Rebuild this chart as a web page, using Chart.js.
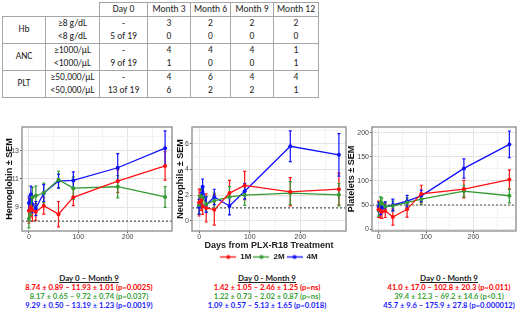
<!DOCTYPE html>
<html>
<head>
<meta charset="utf-8">
<title>PLX-R18 blood counts</title>
<script src="https://cdn.jsdelivr.net/npm/chart.js"></script>
<style>
  body { margin: 0; width: 520px; height: 312px; position: relative; overflow: hidden; background: #fff;
         font-family: Carlito, Lato, 'Liberation Sans', sans-serif; }
  #tbl { position: absolute; left: 2px; top: 2px; border-collapse: collapse; table-layout: fixed; font-size: 9.5px; color: #222; }
  #tbl td { border: 1px solid #a6a6a6; padding: 0; text-align: center; white-space: nowrap; height: 13px; line-height: 13px; }
  #tbl td.blank { border: none; }
  #tbl tr.hi td { border-bottom: none; }
  #tbl tr.lo td { border-top: none; }
  #tbl tr.hi td.grp { border-bottom: 1px solid #a6a6a6; }
  canvas { position: absolute; }
  .stats { position: absolute; top: 274px; width: 180px; text-align: center; font-weight: bold; font-size: 7.6px; line-height: 9px;
           font-family: 'Liberation Sans Narrow', Lato, sans-serif; }
  .stats .hd { text-decoration: underline; color: #222; font-size: 8px; }
</style>
</head>
<body>
<table id="tbl"></table>
<canvas id="hb" width="178" height="130" style="left:0;top:120px"></canvas>
<canvas id="anc" width="180" height="151" style="left:170px;top:120px"></canvas>
<canvas id="plt" width="180" height="130" style="left:340px;top:120px"></canvas>
<div id="stats"></div>
<script>
// tabela
const tableCols = ['Day 0', 'Month 3', 'Month 6', 'Month 9', 'Month 12'];
const tableGroups = ['Hb', 'ANC', 'PLT'];
const tableRowLabels = [['≥8 g/dL', '<8 g/dL'], ['≥1000/µL', '<1000/µL'], ['≥50,000/µL', '<50,000/µL']];
const hbCounts = [['-', '3', '2', '2', '2'], ['5 of 19', '0', '0', '0', '0']];
const ancCounts = [['-', '4', '4', '4', '1'], ['9 of 19', '1', '0', '0', '1']];
const pltCounts = [['-', '4', '6', '4', '4'], ['13 of 19', '6', '2', '2', '1']];
const colWidths = [43, 54, 48, 43, 40, 43, 45];

// dane wykresow
const days = [0, 4, 7, 14, 30, 60, 90, 180, 276];
const seriesNames = ['1M', '2M', '4M'];
const seriesColors = ['#ff1010', '#339933', '#1010ff'];

const hb1M = [8.74, 9.0, 8.8, 8.65, 9.1, 8.5, 9.7, 10.85, 11.93];
const hb1MSem = [0.89, 0.7, 0.8, 0.6, 0.6, 0.9, 0.6, 0.8, 1.01];
const hb2M = [8.17, 9.0, 9.7, 9.8, 10.0, 10.95, 10.35, 10.45, 9.72];
const hb2MSem = [0.65, 0.6, 0.7, 0.7, 0.7, 0.6, 0.8, 0.8, 0.74];
const hb4M = [9.29, 9.9, 9.2, 8.9, 10.0, 10.85, 10.9, 11.8, 13.19];
const hb4MSem = [0.5, 0.6, 0.6, 0.5, 0.6, 0.5, 0.6, 1.0, 1.23];

const anc1M = [1.42, 1.6, 1.1, 1.0, 0.85, 2.15, 2.75, 2.25, 2.46];
const anc1MSem = [1.05, 0.8, 0.6, 1.1, 1.2, 1.0, 1.1, 1.1, 1.25];
const anc2M = [1.22, 1.9, 1.8, 1.3, 1.55, 1.85, 2.0, 2.15, 2.02];
const anc2MSem = [0.73, 0.6, 0.6, 0.6, 0.6, 0.8, 0.8, 0.9, 0.87];
const anc4M = [1.09, 1.7, 2.65, 1.25, 1.85, 1.15, 2.3, 5.8, 5.13];
const anc4MSem = [0.57, 0.5, 0.6, 0.6, 0.6, 0.7, 0.6, 1.2, 1.65];

const plt1M = [41.0, 38, 36, 38, 25, 41, 73, 83, 102.8];
const plt1MSem = [17.0, 15, 14, 14, 17, 16, 18, 18, 20.3];
const plt2M = [39.4, 55, 53, 47, 48, 55, 62, 79, 69.2];
const plt2MSem = [12.3, 12, 12, 10, 10, 10, 11, 12, 14.6];
const plt4M = [45.7, 40, 44, 46, 50, 58, 69, 126, 175.9];
const plt4MSem = [9.6, 10, 10, 10, 12, 12, 12, 20, 27.8];

const xTicks = [0, 50, 100, 150, 200, 250];
const xLabels = [0, 100, 200];
const hbTicks = [8, 9, 10, 11, 12, 13, 14];
const hbLabels = [9, 11, 13];
const ancTicks = [0, 1, 2, 3, 4, 5, 6, 7];
const ancLabels = [0, 2, 4, 6];
const pltTicks = [0, 25, 50, 75, 100, 125, 150, 175, 200];
const pltLabels = [0, 50, 100, 150, 200];

const statsHeaders = ['Day 0 – Month 9', 'Day 0 - Month 9', 'Day 0 - Month 9'];
const hbStats = ['8.74 ± 0.89 – 11.93 ± 1.01 (p=0.0025)', '8.17 ± 0.65 – 9.72 ± 0.74 (p=0.037)', '9.29 ± 0.50 – 13.19 ± 1.23 (p=0.0019)'];
const ancStats = ['1.42 ± 1.05 – 2.46 ± 1.25 (p=ns)', '1.22 ± 0.73 – 2.02 ± 0.87 (p=ns)', '1.09 ± 0.57 – 5.13 ± 1.65 (p=0.018)'];
const pltStats = ['41.0 ± 17.0 – 102.8 ± 20.3 (p=0.011)', '39.4 ± 12.3 – 69.2 ± 14.6 (p<0.1)', '45.7 ± 9.6 – 175.9 ± 27.8 (p=0.000012)'];
const statsColors = ['#ff0000', '#3a9e3a', '#1a1aff'];

// budowa tabeli
const tbl = document.getElementById('tbl');
let html = '<colgroup>' + colWidths.map(w => '<col style="width:' + w + 'px">').join('') + '</colgroup>';
html += '<tr><td class="blank"></td><td class="blank"></td>' + tableCols.map(c => '<td style="height:12px;line-height:12px">' + c + '</td>').join('') + '</tr>';
[hbCounts, ancCounts, pltCounts].forEach((counts, g) => {
  counts.forEach((row, r) => {
    html += '<tr class="' + (r === 0 ? 'hi' : 'lo') + '">';
    if (r === 0) html += '<td rowspan="2" class="grp">' + tableGroups[g] + '</td>';
    html += '<td>' + tableRowLabels[g][r] + '</td>' + row.map(v => '<td>' + v + '</td>').join('') + '</tr>';
  });
});
tbl.innerHTML = html;

// statystyki pod wykresami
const statsBox = document.getElementById('stats');
[hbStats, ancStats, pltStats].forEach((lines, i) => {
  const div = document.createElement('div');
  div.className = 'stats';
  div.style.left = [-1, 177, 359][i] + 'px';
  div.innerHTML = '<div class="hd">' + statsHeaders[i] + '</div>' +
    lines.map((t, k) => '<div style="color:' + statsColors[k] + '">' + t + '</div>').join('');
  statsBox.appendChild(div);
});

// pluginy: slupki bledow, linia progowa, ramka panelu
const errorBars = {
  id: 'errorBars',
  beforeDatasetsDraw(chart) {
    const { ctx, scales: { x, y } } = chart;
    chart.data.datasets.forEach(ds => {
      ctx.save();
      ctx.strokeStyle = ds.borderColor;
      ctx.lineWidth = 1.2;
      ds.data.forEach((p, i) => {
        const px = x.getPixelForValue(p.x);
        const top = y.getPixelForValue(p.y + ds.sem[i]);
        const bot = y.getPixelForValue(p.y - ds.sem[i]);
        ctx.beginPath();
        ctx.moveTo(px, top); ctx.lineTo(px, bot);
        ctx.moveTo(px - 1.5, top); ctx.lineTo(px + 1.5, top);
        ctx.moveTo(px - 1.5, bot); ctx.lineTo(px + 1.5, bot);
        ctx.stroke();
      });
      ctx.restore();
    });
  }
};

const refLine = {
  id: 'refLine',
  beforeDatasetsDraw(chart, args, opts) {
    const { ctx, chartArea, scales: { y } } = chart;
    const py = y.getPixelForValue(opts.value);
    ctx.save();
    ctx.strokeStyle = '#555';
    ctx.lineWidth = 1.1;
    ctx.setLineDash([2, 2]);
    ctx.beginPath();
    ctx.moveTo(chartArea.left, py);
    ctx.lineTo(chartArea.right, py);
    ctx.stroke();
    ctx.restore();
  }
};

const panelBorder = {
  id: 'panelBorder',
  afterDraw(chart) {
    const { ctx, chartArea: a } = chart;
    ctx.save();
    ctx.strokeStyle = '#9a9a9a';
    ctx.lineWidth = 1.5;
    ctx.strokeRect(a.left, a.top, a.right - a.left, a.bottom - a.top);
    ctx.restore();
  }
};

function keyImage(color) {
  const c = document.createElement('canvas');
  c.width = 16; c.height = 7;
  const g = c.getContext('2d');
  g.strokeStyle = color; g.fillStyle = color; g.lineWidth = 1.3;
  g.beginPath(); g.moveTo(0, 3.5); g.lineTo(16, 3.5); g.stroke();
  g.beginPath(); g.arc(8, 3.5, 2, 0, Math.PI * 2); g.fill();
  return c;
}

const axisFont = "'Liberation Sans', Arial, sans-serif";

function makePanel(id, cfg) {
  const datasets = cfg.series.map((vals, i) => ({
    label: seriesNames[i],
    data: days.map((d, k) => ({ x: d, y: vals[k] })),
    sem: cfg.sems[i],
    borderColor: seriesColors[i],
    backgroundColor: seriesColors[i],
    borderWidth: 1.3,
    pointRadius: 2,
    pointBorderWidth: 0,
    tension: 0
  }));
  return new Chart(document.getElementById(id), {
    type: 'line',
    data: { datasets },
    options: {
      responsive: false,
      animation: false,
      devicePixelRatio: 1,
      layout: { padding: { top: 7, right: cfg.padRight, left: 0, bottom: 0 } },
      plugins: {
        legend: cfg.legend ? {
          display: true,
          position: 'bottom',
          fullSize: false,
          labels: {
            usePointStyle: true,
            pointStyleWidth: 16,
            boxHeight: 7,
            padding: 2,
            color: '#222',
            font: { size: 8, weight: 'bold', family: axisFont },
            generateLabels: chart => chart.data.datasets.map((ds, i) => ({
              text: ds.label, pointStyle: keyImage(ds.borderColor), fillStyle: ds.borderColor,
              strokeStyle: ds.borderColor, lineWidth: 0, hidden: false, datasetIndex: i, fontColor: '#222'
            }))
          }
        } : { display: false },
        tooltip: { enabled: false },
        refLine: { value: cfg.threshold }
      },
      scales: {
        x: {
          type: 'linear', min: -14, max: 290,
          afterBuildTicks: s => { s.ticks = xTicks.map(v => ({ value: v })); },
          afterFit: s => { s.height = cfg.xHeight; },
          border: { display: false },
          grid: {
            color: c => (c.tick && xLabels.includes(c.tick.value)) ? '#e4e4e4' : '#f2f2f2',
            tickColor: c => (c.tick && xLabels.includes(c.tick.value)) ? '#555' : 'rgba(0,0,0,0)',
            tickLength: 2
          },
          ticks: {
            autoSkip: false, maxRotation: 0, padding: 0, color: '#444',
            font: { size: 7, family: axisFont },
            callback: v => xLabels.includes(v) ? v : ''
          },
          title: cfg.xTitle ? {
            display: true, text: cfg.xTitle, color: '#222',
            font: { size: 9, weight: 'bold', family: axisFont }, padding: { top: 0, bottom: 0 }
          } : { display: false }
        },
        y: {
          type: 'linear', min: cfg.yMin, max: cfg.yMax,
          afterBuildTicks: s => { s.ticks = cfg.yTicks.map(v => ({ value: v })); },
          afterFit: s => { s.width = cfg.yWidth; },
          border: { display: false },
          grid: {
            color: c => (c.tick && cfg.yLabels.includes(c.tick.value)) ? '#e4e4e4' : '#f2f2f2',
            tickColor: c => (c.tick && cfg.yLabels.includes(c.tick.value)) ? '#555' : 'rgba(0,0,0,0)',
            tickLength: 2
          },
          ticks: {
            autoSkip: false, padding: 1, color: '#444',
            font: { size: 7, family: axisFont },
            callback: v => cfg.yLabels.includes(v) ? v : ''
          },
          title: {
            display: true, text: cfg.yTitle, color: '#111',
            font: { size: 9, weight: 'bold', family: axisFont }, padding: { top: cfg.yTitlePad, bottom: 0 }
          }
        }
      }
    },
    plugins: [errorBars, refLine, panelBorder]
  });
}

makePanel('hb', {
  series: [hb1M, hb2M, hb4M], sems: [hb1MSem, hb2MSem, hb4MSem],
  yMin: 7.3, yMax: 14.7, yTicks: hbTicks, yLabels: hbLabels, threshold: 8,
  yTitle: 'Hemoglobin ± SEM', yTitlePad: 4, yWidth: 22, xHeight: 19, padRight: 6
});
makePanel('anc', {
  series: [anc1M, anc2M, anc4M], sems: [anc1MSem, anc2MSem, anc4MSem],
  yMin: -0.8, yMax: 7.3, yTicks: ancTicks, yLabels: ancLabels, threshold: 1,
  yTitle: 'Neutrophils ± SEM', yTitlePad: 5, yWidth: 22, xHeight: 20, padRight: 3,
  xTitle: 'Days from PLX-R18 Treatment', legend: true
});
makePanel('plt', {
  series: [plt1M, plt2M, plt4M], sems: [plt1MSem, plt2MSem, plt4MSem],
  yMin: -4, yMax: 212, yTicks: pltTicks, yLabels: pltLabels, threshold: 50,
  yTitle: 'Platelets ± SEM', yTitlePad: 6, yWidth: 32, xHeight: 19, padRight: 3
});
</script>
</body>
</html>
